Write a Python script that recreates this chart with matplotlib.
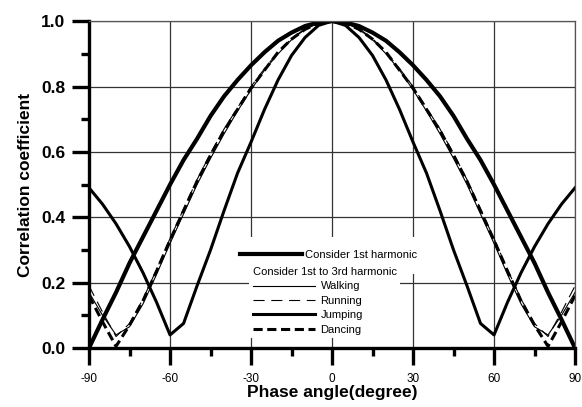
import matplotlib
matplotlib.use("Agg")
import matplotlib.pyplot as plt
from matplotlib.lines import Line2D
from matplotlib.ticker import MultipleLocator

plt.rcParams['font.family'] = ['Liberation Sans', 'DejaVu Sans']

# phase angle (degree), 5 degree steps
angle = [-90, -85, -80, -75, -70, -65, -60, -55, -50, -45, -40, -35, -30, -25, -20, -15, -10, -5,
         0, 5, 10, 15, 20, 25, 30, 35, 40, 45, 50, 55, 60, 65, 70, 75, 80, 85, 90]

first_harm = [0.0, 0.087, 0.17, 0.26, 0.34, 0.42, 0.5, 0.575, 0.64, 0.71, 0.77, 0.82, 0.865, 0.905, 0.94, 0.965, 0.985, 0.996,
              1.0, 0.996, 0.985, 0.965, 0.94, 0.905, 0.865, 0.82, 0.77, 0.71, 0.64, 0.575, 0.5, 0.42, 0.34, 0.26, 0.17, 0.087, 0.0]
walking = [0.17, 0.10, 0.04, 0.065, 0.135, 0.225, 0.32, 0.41, 0.50, 0.58, 0.655, 0.725, 0.79, 0.85, 0.90, 0.943, 0.975, 0.994,
           1.0, 0.994, 0.975, 0.943, 0.90, 0.85, 0.79, 0.725, 0.655, 0.58, 0.50, 0.41, 0.32, 0.225, 0.135, 0.065, 0.04, 0.10, 0.17]
running = [0.19, 0.11, 0.035, 0.075, 0.15, 0.24, 0.335, 0.425, 0.515, 0.595, 0.67, 0.735, 0.80, 0.855, 0.905, 0.947, 0.977, 0.995,
           1.0, 0.995, 0.977, 0.947, 0.905, 0.855, 0.80, 0.735, 0.67, 0.595, 0.515, 0.425, 0.335, 0.24, 0.15, 0.075, 0.035, 0.11, 0.19]
jumping = [0.49, 0.44, 0.38, 0.31, 0.23, 0.14, 0.04, 0.075, 0.19, 0.30, 0.42, 0.535, 0.63, 0.73, 0.82, 0.895, 0.95, 0.987,
           1.0, 0.987, 0.95, 0.895, 0.82, 0.73, 0.63, 0.535, 0.42, 0.30, 0.19, 0.075, 0.04, 0.14, 0.23, 0.31, 0.38, 0.44, 0.49]
dancing = [0.16, 0.08, 0.005, 0.07, 0.145, 0.235, 0.33, 0.42, 0.51, 0.59, 0.665, 0.73, 0.795, 0.85, 0.905, 0.945, 0.975, 0.994,
           1.0, 0.994, 0.975, 0.945, 0.905, 0.85, 0.795, 0.73, 0.665, 0.59, 0.51, 0.42, 0.33, 0.235, 0.145, 0.07, 0.005, 0.08, 0.16]

xticks = [-90, -60, -30, 0, 30, 60, 90]
yticks = [0.0, 0.2, 0.4, 0.6, 0.8, 1.0]

fig = plt.figure(figsize=(5.82, 4.07), dpi=100)
ax = fig.add_axes([0.153, 0.145, 0.835, 0.803])

ax.plot(angle, first_harm, color='black', lw=3.0, solid_capstyle='butt')
l_walk, = ax.plot(angle, walking, color='black', lw=0.8)
l_run, = ax.plot(angle, running, color='black', lw=0.8, dashes=(10, 6))
l_jump, = ax.plot(angle, jumping, color='black', lw=2.2)
l_dance, = ax.plot(angle, dancing, color='black', lw=2.2, dashes=(3, 1.5))

ax.set_xlim(-90, 90)
ax.set_ylim(0, 1.0)
ax.set_xticks(xticks)
ax.set_yticks(yticks)
ax.set_xticklabels([str(t) for t in xticks], fontsize=8.5)
ax.set_yticklabels(['%.1f' % t for t in yticks], fontsize=12.5, fontweight='bold')
ax.xaxis.set_minor_locator(MultipleLocator(15))
ax.yaxis.set_minor_locator(MultipleLocator(0.1))
ax.tick_params(which='major', direction='out', length=12, width=2.4, pad=6)
ax.tick_params(axis='y', which='major', pad=5)
ax.tick_params(which='minor', direction='out', length=6, width=2.4)
ax.grid(True, which='major', color='#333333', lw=0.9)
ax.set_axisbelow(True)

for s in ['left', 'bottom']:
    ax.spines[s].set_linewidth(2.4)
for s in ['top', 'right']:
    ax.spines[s].set_linewidth(0.9)
    ax.spines[s].set_color('#555555')

ax.set_xlabel('Phase angle(degree)', fontsize=12.5, fontweight='bold', labelpad=0)
ax.set_ylabel('Correlation coefficient', fontsize=12.5, fontweight='bold', labelpad=6)

# legends
h1 = Line2D([], [], color='black', lw=3.0)
leg1 = ax.legend([h1], ['Consider 1st harmonic'], loc='center left', bbox_to_anchor=(0.283, 0.284),
                 frameon=True, facecolor='white', edgecolor='none', framealpha=1, fancybox=False,
                 fontsize=8, handlelength=5.6, handletextpad=0.3, borderpad=1.2, borderaxespad=0)
ax.add_artist(leg1)
leg2 = ax.legend([l_walk, l_run, l_jump, l_dance], ['Walking', 'Running', 'Jumping', 'Dancing'],
                 title='Consider 1st to 3rd harmonic', title_fontsize=8, alignment='left',
                 loc='upper left', bbox_to_anchor=(0.33, 0.258),
                 frameon=True, facecolor='white', edgecolor='none', framealpha=1, fancybox=False,
                 fontsize=8, handlelength=5.6, handletextpad=0.5, borderpad=0.3, borderaxespad=0,
                 labelspacing=0.4)

fig.savefig('out.png', dpi=100)
